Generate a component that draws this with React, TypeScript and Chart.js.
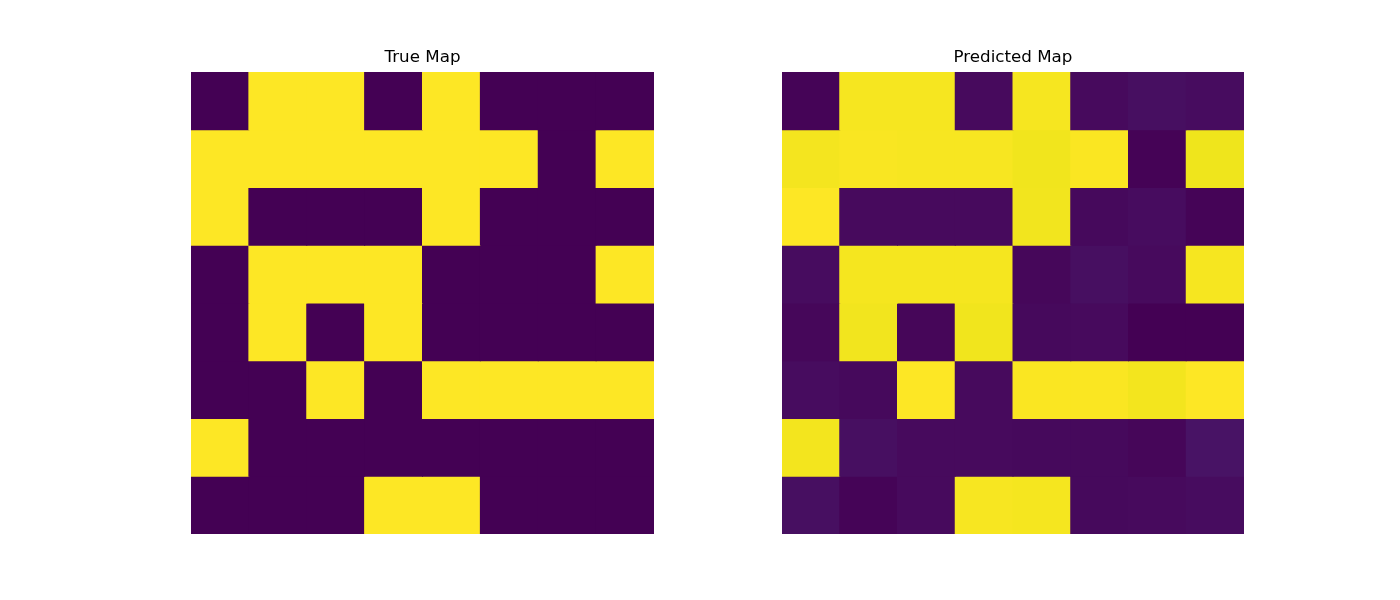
import React, { useEffect, useRef } from "react";
import { Chart, registerables } from "chart.js";

Chart.register(...registerables);

const columns = ["0", "1", "2", "3", "4", "5", "6", "7"];
const rowsLabels = ["0", "1", "2", "3", "4", "5", "6", "7"];

const trueMap: number[][] = [
  [0, 1, 1, 0, 1, 0, 0, 0],
  [1, 1, 1, 1, 1, 1, 0, 1],
  [1, 0, 0, 0, 1, 0, 0, 0],
  [0, 1, 1, 1, 0, 0, 0, 1],
  [0, 1, 0, 1, 0, 0, 0, 0],
  [0, 0, 1, 0, 1, 1, 1, 1],
  [1, 0, 0, 0, 0, 0, 0, 0],
  [0, 0, 0, 1, 1, 0, 0, 0],
];

const predictedMap: number[][] = [
  [0.008, 0.988, 0.988, 0.024, 0.988, 0.024, 0.036, 0.028],
  [0.986, 0.994, 0.991, 0.991, 0.98, 0.995, 0.004, 0.977],
  [1.0, 0.024, 0.024, 0.024, 0.982, 0.02, 0.028, 0.008],
  [0.028, 0.987, 0.987, 0.987, 0.016, 0.036, 0.024, 0.988],
  [0.016, 0.982, 0.012, 0.98, 0.02, 0.024, 0.0, 0.0],
  [0.028, 0.02, 1.0, 0.024, 0.995, 0.995, 0.984, 1.0],
  [0.984, 0.036, 0.024, 0.024, 0.02, 0.02, 0.012, 0.048],
  [0.036, 0.008, 0.024, 0.991, 0.987, 0.02, 0.024, 0.028],
];

const titles = ["True Map", "Predicted Map"];

// viridis colormap stops [position, r, g, b]
const viridis: number[][] = [
  [0, 68, 1, 84],
  [4 / 255, 70, 7, 90],
  [8 / 255, 71, 13, 96],
  [0.0625, 72, 24, 106],
  [0.125, 71, 45, 123],
  [0.1875, 66, 64, 134],
  [0.25, 59, 82, 139],
  [0.3125, 51, 99, 141],
  [0.375, 44, 114, 142],
  [0.4375, 38, 130, 142],
  [0.5, 33, 145, 140],
  [0.5625, 31, 160, 136],
  [0.625, 40, 174, 128],
  [0.6875, 63, 188, 115],
  [0.75, 94, 201, 98],
  [0.8125, 132, 212, 75],
  [0.875, 173, 220, 48],
  [0.9375, 216, 226, 25],
  [246 / 255, 231, 228, 25],
  [250 / 255, 241, 229, 29],
  [253 / 255, 248, 230, 33],
  [1, 253, 231, 37],
];

function viridisColor(t: number): string {
  const v = Math.max(0, Math.min(1, t));
  for (let i = 1; i < viridis.length; i++) {
    const a = viridis[i - 1];
    const b = viridis[i];
    if (v <= b[0]) {
      const f = (v - a[0]) / (b[0] - a[0] || 1);
      const r = Math.round(a[1] + (b[1] - a[1]) * f);
      const g = Math.round(a[2] + (b[2] - a[2]) * f);
      const bl = Math.round(a[3] + (b[3] - a[3]) * f);
      return `rgb(${r},${g},${bl})`;
    }
  }
  return "rgb(253,231,37)";
}

function HeatChart({
  data,
  title,
  padLeft,
  padRight,
}: {
  data: number[][];
  title: string;
  padLeft: number;
  padRight: number;
}) {
  const ref = useRef<HTMLCanvasElement | null>(null);
  useEffect(() => {
    if (!ref.current) return;
    const flat = data.flat();
    const mn = Math.min(...flat);
    const mx = Math.max(...flat);
    const norm = (v: number) => (mx > mn ? (v - mn) / (mx - mn) : 0);
    const datasets = data.map((row, ri) => ({
      label: rowsLabels[ri],
      data: row.map(() => 1),
      backgroundColor: row.map((v) => viridisColor(norm(v))),
      borderWidth: 0,
      inflateAmount: 0.5,
      barPercentage: 1,
      categoryPercentage: 1,
      stack: "s",
    }));
    const titlePlugin = {
      id: "customTitle",
      afterDraw(chart: any) {
        const { ctx, chartArea } = chart;
        ctx.save();
        ctx.fillStyle = "#000";
        ctx.font = "16.7px 'DejaVu Sans'";
        ctx.textAlign = "center";
        ctx.textBaseline = "alphabetic";
        ctx.fillText(title, (chartArea.left + chartArea.right) / 2, chartArea.top - 10.5);
        ctx.restore();
      },
    };
    const chart = new Chart(ref.current, {
      type: "bar",
      data: { labels: columns, datasets },
      options: {
        animation: false,
        responsive: false,
        maintainAspectRatio: false,
        layout: { padding: { left: padLeft, right: padRight, top: 72, bottom: 66 } },
        plugins: { legend: { display: false }, tooltip: { enabled: false }, title: { display: false } },
        scales: {
          x: { display: false, stacked: true, offset: true, grid: { display: false } },
          y: { display: false, stacked: true, min: 0, max: 8, reverse: true, grid: { display: false } },
        },
      },
      plugins: [titlePlugin],
    } as any);
    return () => chart.destroy();
  }, [data, title, padLeft, padRight]);
  return <canvas ref={ref} width={700} height={600} style={{ display: "block", width: 700, height: 600 }} />;
}

export default function App() {
  return (
    <div style={{ position: "fixed", left: 0, top: 0, width: 1400, height: 600, background: "#fff", display: "flex" }}>
      <HeatChart data={trueMap} title={titles[0]} padLeft={191} padRight={46} />
      <HeatChart data={predictedMap} title={titles[1]} padLeft={82} padRight={156} />
    </div>
  );
}
